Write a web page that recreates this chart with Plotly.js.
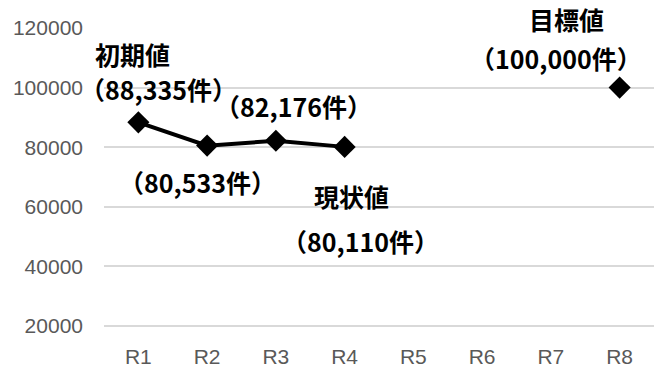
<!DOCTYPE html>
<html>
<head>
<meta charset="utf-8">
<script src="https://cdn.plot.ly/plotly-3.0.1.min.js"></script>
<style>html,body{margin:0;padding:0;background:#fff;}#chart{width:662px;height:367px;}</style>
</head>
<body>
<div id="chart"></div>
<script>
const categories = ["R1","R2","R3","R4","R5","R6","R7","R8"];
const actualCats = ["R1","R2","R3","R4"];
const actualValues = [88335, 80533, 82176, 80110];
const targetCats = ["R8"];
const targetValues = [100000];
const yTicks = [20000, 40000, 60000, 80000, 100000, 120000];

const jp = '"Noto Sans CJK JP", sans-serif';
const annFont = {family: jp, size: 25, color: '#000000', weight: 'bold'};

const traces = [
  {x: actualCats, y: actualValues, type: 'scatter', mode: 'lines+markers',
   line: {color: '#000000', width: 4}, marker: {symbol: 'diamond', size: 17, color: '#000000'},
   cliponaxis: false, showlegend: false, hoverinfo: 'none'},
  {x: targetCats, y: targetValues, type: 'scatter', mode: 'markers',
   marker: {symbol: 'diamond', size: 17, color: '#000000'},
   cliponaxis: false, showlegend: false, hoverinfo: 'none'}
];

function fmt(v){ return '（' + v.toLocaleString('en-US') + '件）'; }

// label positions: x in category index units, y in paper units
const annotations = [
  {x: -0.09, y: 0.914, text: '初期値'},
  {x: 0.29, y: 0.797, text: fmt(actualValues[0])},
  {x: 2.26, y: 0.741, text: fmt(actualValues[2])},
  {x: 0.86, y: 0.488, text: fmt(actualValues[1])},
  {x: 3.10, y: 0.442, text: '現状値'},
  {x: 3.23, y: 0.292, text: fmt(actualValues[3])},
  {x: 6.23, y: 0.962, text: '目標値', yanchor: 'bottom'},
  {x: 6.07, y: 0.967, text: fmt(targetValues[0]), yanchor: 'top'}
].map(a => Object.assign({xref: 'x', yref: 'paper', showarrow: false, font: annFont,
  xanchor: 'center', yanchor: 'middle'}, a));

const layout = {
  width: 662, height: 367,
  margin: {l: 104, r: 8, t: 28, b: 38},
  paper_bgcolor: '#ffffff', plot_bgcolor: '#ffffff',
  font: {family: '"Liberation Sans", Arial, sans-serif'},
  xaxis: {type: 'category', categoryorder: 'array', categoryarray: categories,
    range: [-0.5, 7.5], showgrid: false, zeroline: false, showline: false,
    ticks: '', ticklabelstandoff: 13, tickfont: {size: 21, color: '#595959'}, fixedrange: true},
  yaxis: {range: [19000, 120000], tickvals: yTicks, ticktext: yTicks.map(String),
    showgrid: true, gridcolor: '#d9d9d9', gridwidth: 2, zeroline: false, showline: false,
    ticks: '', ticklen: 0, ticklabelstandoff: 20, tickfont: {size: 21, color: '#595959'}, fixedrange: true},
  annotations: annotations,
  showlegend: false
};

Plotly.newPlot('chart', traces, layout, {staticPlot: true, displayModeBar: false});
</script>
</body>
</html>
